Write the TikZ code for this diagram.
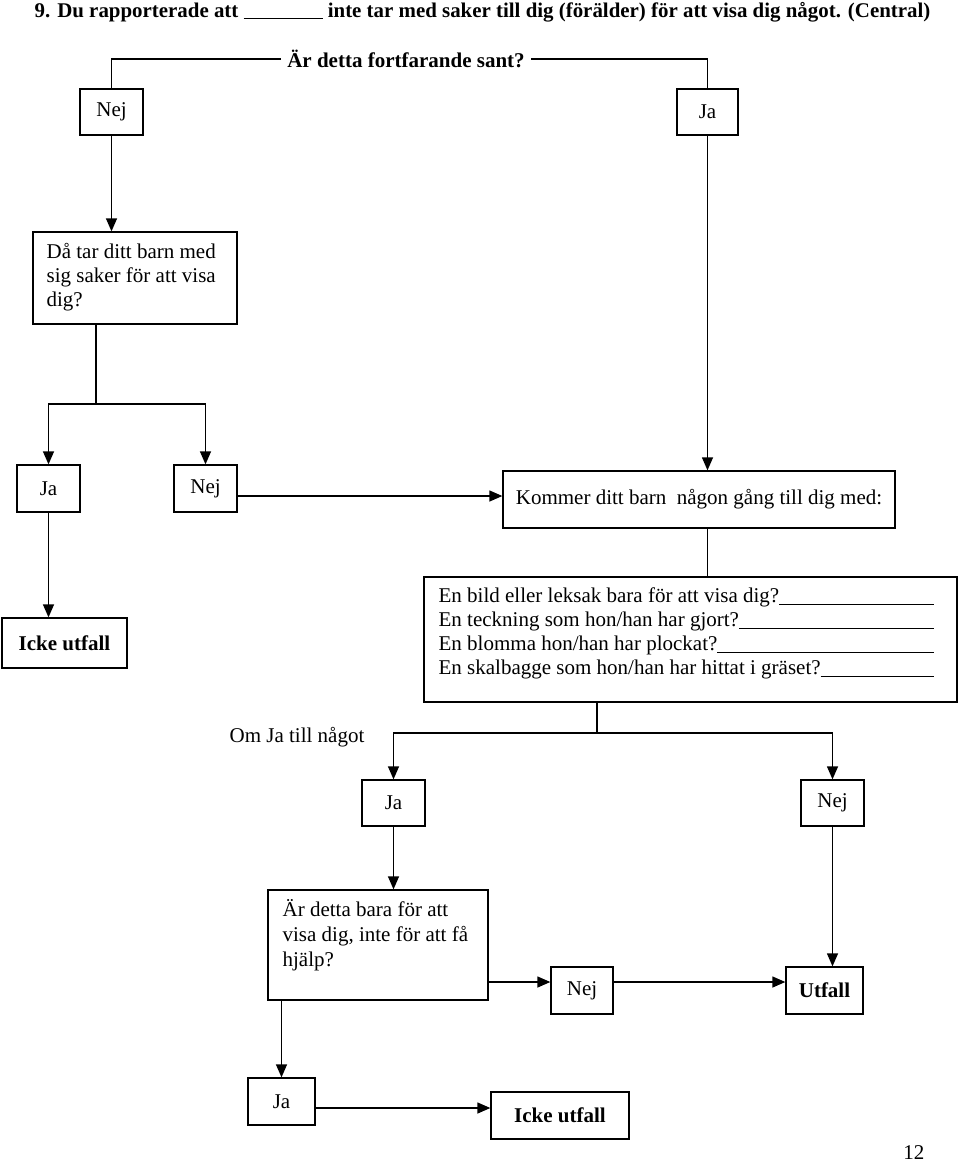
\documentclass[tikz,border=0pt]{standalone}
\usepackage{fontspec}
\setmainfont{Liberation Serif}
\usetikzlibrary{arrows.meta,calc}
\newcommand\ulfill{\leaders\hrule height -1pt depth 2.2pt\hfill}
\begin{document}
\begin{tikzpicture}[x=1pt,y=-1pt, line width=1.3pt,
  box/.style n args={2}{draw, line width=1.3pt, inner sep=0pt, minimum width=#1, minimum height=#2, font=\fontsize{21}{25}\selectfont},
  bbox/.style n args={2}{box={#1}{#2}, font=\fontsize{21}{25}\selectfont\bfseries},
  txt/.style={inner sep=0pt, font=\fontsize{21}{25}\selectfont, align=left},
  arr/.style={-{Triangle[length=13pt,width=11pt]}, line width=1.3pt},
  ln/.style={line width=1.3pt}]
\useasboundingbox (0,0) rectangle (960,1164);
% texts
\node[txt, anchor=base west, font=\fontsize{20.9}{25}\selectfont\bfseries] (hdr) at (34,17.5) {9. Du rapporterade att \rule[-2pt]{79pt}{1.2pt} inte tar med saker till dig (förälder) för att visa dig något. (Central)};
\node[txt, inner xsep=6pt, font=\fontsize{21}{25}\selectfont\bfseries] (q1) at (406,59) {Är detta fortfarande sant?};
% boxes
\node[box={63pt}{46pt}] (nej1) at (111.5,112) {Nej};
\node[box={61pt}{46pt}] (ja1) at (707.5,112) {Ja};
\node[box={204pt}{92pt}] (da) at (135,278) {};
\node[txt, anchor=north west, font=\fontsize{21}{24}\selectfont] (dat) at (46,242) {\rule{0pt}{16pt}Då tar ditt barn med\\sig saker för att visa\\dig?};
\node[box={392pt}{57pt}] (kom) at (699,499.5) {Kommer ditt barn\ \ någon gång till dig med:};
\node[box={63pt}{47pt}] (ja2) at (48.5,488.5) {Ja};
\node[box={63pt}{47pt}] (nej2) at (205.5,488.5) {Nej};
\node[bbox={125pt}{50pt}] (icke1) at (64.5,643) {Icke utfall};
\node[box={533pt}{125pt}] (list) at (690.5,639.5) {};
\node[txt, anchor=north west, font=\fontsize{21}{24}\selectfont] (listt) at (438,586) {\rule{0pt}{16pt}\makebox[495pt][l]{En bild eller leksak bara för att visa dig?\ulfill}\\
\makebox[495pt][l]{En teckning som hon/han har gjort?\ulfill}\\
\makebox[495pt][l]{En blomma hon/han har plockat?\ulfill}\\
\makebox[495pt][l]{En skalbagge som hon/han har hittat i gräset?\ulfill}};
\node[txt, anchor=base west] (omja) at (229,742) {Om Ja till något};
\node[box={63pt}{46pt}] (ja3) at (393.5,803) {Ja};
\node[box={63pt}{46pt}] (nej3) at (832.5,803) {Nej};
\node[box={220pt}{110pt}] (ar) at (378,945) {};
\node[txt, anchor=north west] (art) at (282,899) {\rule{0pt}{16pt}Är detta bara för att\\visa dig, inte för att få\\hjälp?};
\node[box={62pt}{47pt}] (nej4) at (582,990.5) {Nej};
\node[bbox={77pt}{47pt}] (utf) at (824.5,990.5) {Utfall};
\node[box={67pt}{47pt}] (ja4) at (281.5,1101.5) {Ja};
\node[bbox={138pt}{47pt}] (icke2) at (560,1115.5) {Icke utfall};
\node[txt, anchor=base east] (pg) at (925,1159) {12};
% connectors
\draw[ln] (q1.west) -| (nej1.north);
\draw[ln] (q1.east) -| (ja1.north);
\draw[arr] (nej1.south) -- (nej1.south |- da.north);
\coordinate (s1) at (96,404);
\draw[ln] (da.south -| s1) -- (s1);
\draw[arr] (s1) -| (ja2.north);
\draw[arr] (s1) -| (nej2.north);
\draw[arr] (ja1.south) -- (ja1.south |- kom.north);
\coordinate (y1) at (0,496);
\draw[arr] (nej2.east |- y1) -- (kom.west |- y1);
\draw[arr] (ja2.south) -- (ja2.south |- icke1.north);
\draw[ln] (ja1.south |- kom.south) -- (ja1.south |- list.north);
\coordinate (s2) at (597,733);
\draw[ln] (list.south -| s2) -- (s2);
\draw[arr] (s2) -| (ja3.north);
\draw[arr] (s2) -| (nej3.north);
\draw[arr] (ja3.south) -- (ja3.south |- ar.north);
\draw[arr] (nej3.south) -- (nej3.south |- utf.north);
\coordinate (y2) at (0,982);
\draw[arr] (ar.east |- y2) -- (nej4.west |- y2);
\draw[arr] (nej4.east |- y2) -- (utf.west |- y2);
\draw[arr] (ar.south -| ja4.north) -- (ja4.north);
\coordinate (y3) at (0,1108);
\draw[arr] (ja4.east |- y3) -- (icke2.west |- y3);
\end{tikzpicture}
\end{document}
